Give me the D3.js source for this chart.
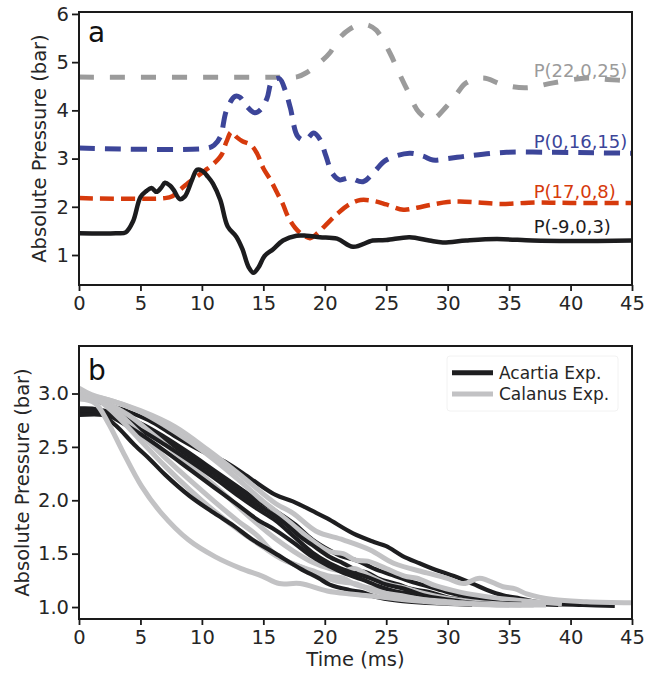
<!DOCTYPE html>
<html>
<head>
<meta charset="utf-8">
<script src="https://cdn.jsdelivr.net/npm/d3@7"></script>
<style>
  body { margin: 0; background: #fff; }
  svg text { font-family: "DejaVu Sans", sans-serif; fill: #262626; }
</style>
</head>
<body>
<div id="chart"></div>
<script>
// ---- data ----
const timeTicks = [0, 5, 10, 15, 20, 25, 30, 35, 40, 45];
const pressureTicksA = [1, 2, 3, 4, 5, 6];
const pressureTicksB = [1.0, 1.5, 2.0, 2.5, 3.0];

// panel a: probes [time ms, pressure bar]
const probe22_0_25 = [[0,4.69],[17.0,4.69],[17.8,4.70],[18.5,4.78],[19.6,4.99],[20.4,5.19],[21.2,5.50],[22.0,5.68],[22.9,5.78],[23.6,5.76],[24.2,5.66],[25.3,5.19],[26.0,4.80],[26.7,4.43],[27.7,3.95],[28.7,3.81],[29.9,4.08],[30.7,4.33],[31.5,4.57],[32.9,4.67],[34.5,4.53],[36.4,4.47],[38.6,4.57],[41.3,4.67],[43,4.64],[45,4.61]];
const probe0_16_15 = [[0,3.22],[10.5,3.22],[11.0,3.28],[11.5,3.45],[12.0,4.0],[12.7,4.29],[13.1,4.27],[13.6,4.10],[14.3,3.95],[14.8,4.02],[15.3,4.25],[15.7,4.6],[16.3,4.66],[16.8,4.40],[17.2,4.05],[17.8,3.46],[18.4,3.38],[19.1,3.53],[19.6,3.40],[20.1,3.05],[20.6,2.70],[21.2,2.56],[22.0,2.60],[23.1,2.52],[24.0,2.72],[25.0,2.97],[26.9,3.11],[28.0,3.05],[28.8,2.97],[30.0,3.00],[31.8,3.06],[34.8,3.13],[38.6,3.13],[42,3.12],[45,3.11]];
const probe17_0_8 = [[0,2.18],[7.0,2.18],[7.6,2.22],[8.2,2.35],[9.0,2.52],[9.6,2.63],[10.3,2.76],[10.9,2.88],[11.6,3.08],[12.0,3.35],[12.4,3.55],[12.8,3.45],[13.3,3.36],[14.0,3.28],[14.5,3.10],[15.0,2.80],[15.6,2.55],[16.1,2.30],[16.6,2.05],[17.0,1.80],[17.6,1.56],[18.2,1.42],[18.8,1.35],[19.4,1.45],[20.0,1.60],[21.0,1.85],[22.0,2.05],[22.9,2.14],[24.0,2.12],[25.0,2.05],[26.4,1.94],[27.5,1.98],[28.6,2.04],[30.0,2.10],[31.0,2.11],[32.5,2.09],[34.3,2.06],[37.2,2.09],[40,2.08],[45,2.08]];
const probeM9_0_3 = [[0,1.45],[3.0,1.45],[3.8,1.47],[4.4,1.7],[5.0,2.2],[5.5,2.33],[5.9,2.39],[6.3,2.31],[6.7,2.40],[7.0,2.50],[7.4,2.44],[7.7,2.35],[8.2,2.16],[8.6,2.21],[9.2,2.56],[9.6,2.77],[10.0,2.75],[10.5,2.62],[10.9,2.48],[11.5,2.14],[12.1,1.59],[12.8,1.38],[13.3,1.12],[13.8,0.75],[14.2,0.63],[14.6,0.74],[15.1,0.98],[15.8,1.12],[16.6,1.30],[17.7,1.40],[18.5,1.40],[19.6,1.37],[21.0,1.34],[22.3,1.17],[23.9,1.30],[25.0,1.31],[26.9,1.37],[28.5,1.30],[29.6,1.26],[31.5,1.30],[34.0,1.33],[36.9,1.30],[40,1.29],[45,1.30]];
const probeNames = ["P(22,0,25)", "P(0,16,15)", "P(17,0,8)", "P(-9,0,3)"];
const probeLabelTime = 37;

// panel b: decay runs [time ms, pressure bar]
const acartiaRuns = [
  [[0,2.97],[1,2.95],[2.4,2.89],[4,2.83],[6,2.73],[7.8,2.60],[10,2.46],[11.9,2.36],[14,2.20],[16,2.05],[17.4,1.99],[19,1.90],[20.2,1.83],[22.3,1.69],[24,1.61],[25,1.57],[26.3,1.48],[27.7,1.41],[29,1.35],[30.5,1.29],[32,1.22],[33.2,1.16],[34.5,1.11],[35.9,1.08],[37.2,1.05],[38.6,1.03],[41,1.02],[43.6,1.01]],
  [[0,2.85],[1.5,2.85],[3,2.81],[5,2.72],[7,2.59],[9,2.44],[11,2.28],[13,2.12],[14.5,2.00],[16,1.90],[17.5,1.78],[19,1.63],[20.4,1.53],[21.5,1.47],[22.5,1.44],[24,1.36],[25.5,1.30],[27,1.24],[28.5,1.19],[30,1.14],[31.5,1.10],[33,1.07],[35,1.05],[37,1.03],[39,1.02]],
  [[0,2.82],[1.8,2.82],[3,2.79],[5,2.69],[7,2.56],[9,2.41],[11,2.25],[13,2.08],[14.5,1.96],[16,1.85],[17,1.76],[18,1.66],[19,1.58],[20.4,1.47],[21.5,1.41],[22.5,1.35],[23.5,1.32],[24.5,1.26],[26,1.21],[27,1.17],[28.5,1.14],[30,1.09],[32,1.06],[34,1.04],[36,1.03]],
  [[0,2.80],[2,2.80],[3,2.77],[5,2.66],[7,2.52],[9,2.37],[11,2.21],[13,2.04],[14.5,1.92],[16,1.81],[17.5,1.66],[19,1.51],[20.4,1.41],[22,1.33],[23.5,1.28],[25,1.21],[26.5,1.17],[28,1.11],[30,1.07],[32,1.04],[35,1.02]],
  [[0,2.86],[1.5,2.85],[3,2.76],[5,2.62],[7,2.46],[9,2.29],[11,2.12],[13,1.95],[14.5,1.82],[16,1.72],[17.5,1.60],[19,1.47],[20.4,1.38],[21.5,1.32],[23,1.26],[24.5,1.19],[26,1.14],[27.5,1.12],[29,1.07],[31,1.04],[33,1.02]],
  [[0,2.84],[1.5,2.83],[3,2.70],[4.5,2.52],[5.8,2.38],[7,2.24],[9,2.04],[11,1.88],[12.6,1.76],[14,1.64],[16,1.50],[18,1.36],[19.5,1.27],[20.4,1.21],[22,1.16],[23,1.14],[24,1.10],[26,1.06],[28,1.04],[30,1.03],[32,1.02]]
];
const calanusRuns = [
  [[0,3.00],[2.4,2.94],[5,2.84],[7.8,2.69],[10.5,2.47],[13.2,2.23],[16,1.97],[17.4,1.88],[19.3,1.71],[21.5,1.63],[23.7,1.535],[25.6,1.41],[28.3,1.32],[29.9,1.27],[31.3,1.22],[32.6,1.27],[34.5,1.19],[35.5,1.17],[36.5,1.12],[38.6,1.07],[41.3,1.05],[45,1.04]],
  [[0,3.05],[1,2.99],[3,2.92],[5,2.83],[7,2.70],[9,2.55],[11,2.38],[13,2.19],[15,1.99],[16,1.90],[17.5,1.76],[19,1.62],[20.4,1.52],[21.5,1.50],[22.5,1.44],[23.5,1.43],[25,1.36],[26.5,1.29],[27.5,1.27],[29,1.20],[31,1.14],[33,1.10],[35,1.07],[37,1.05],[39.3,1.03]],
  [[0,2.95],[2,2.92],[4,2.80],[6,2.62],[8,2.43],[10,2.24],[12,2.04],[14,1.83],[16,1.64],[17.5,1.52],[19,1.42],[20.4,1.36],[21.5,1.34],[22.5,1.36],[23.5,1.30],[25,1.22],[26.5,1.18],[28,1.13],[30,1.08],[32,1.05],[34,1.03],[36,1.02]],
  [[0,2.98],[1.5,2.95],[3,2.84],[5,2.62],[7,2.40],[9,2.19],[11,1.99],[13,1.80],[14.5,1.67],[16,1.49],[17.5,1.40],[19,1.34],[20.4,1.29],[21.5,1.27],[22.5,1.21],[24,1.17],[25.5,1.15],[27,1.10],[29,1.06],[31,1.04],[34,1.02],[37,1.02]],
  [[0,2.97],[1.5,2.94],[3,2.80],[5,2.56],[7,2.32],[9,2.10],[11,1.90],[13,1.72],[15,1.56],[16.5,1.45],[18,1.38],[19.5,1.30],[21,1.24],[22.5,1.22],[24,1.15],[26,1.11],[28,1.07],[30,1.05],[32,1.03],[35,1.02]],
  [[0,2.95],[1.3,2.91],[2.4,2.72],[3.5,2.47],[5.1,2.13],[6.7,1.88],[8.9,1.63],[11.1,1.47],[13.2,1.36],[14.9,1.29],[16.3,1.22],[18,1.22],[20.2,1.15],[22.3,1.12],[24,1.10],[25.6,1.08],[28.3,1.05],[31,1.03],[34,1.02],[38,1.02]]
];
const legendNames = ["Acartia Exp.", "Calanus Exp."];

// ---- chart ----
const width = 646, height = 673;
const left = 79, right = 632;
const panelA = { top: 12, bottom: 285 };
const panelB = { top: 346, bottom: 619 };

const svg = d3.select("#chart").append("svg")
  .attr("width", width)
  .attr("height", height);

const x = d3.scaleLinear().domain([0, 45]).range([left, right]);
const yA = d3.scaleLinear().domain([0.378, 6.04]).range([panelA.bottom, panelA.top]);
const yB = d3.scaleLinear().domain([0.888, 3.445]).range([panelB.bottom, panelB.top]);

function drawAxes(y, panel, ticks, fmt) {
  const gx = svg.append("g")
    .attr("transform", `translate(0,${panel.bottom})`)
    .call(d3.axisBottom(x).tickValues(timeTicks).tickSize(6).tickPadding(5).tickSizeOuter(0));
  const gy = svg.append("g")
    .attr("transform", `translate(${left},0)`)
    .call(d3.axisLeft(y).tickValues(ticks).tickFormat(fmt).tickSize(7).tickPadding(3).tickSizeOuter(0));
  [gx, gy].forEach(g => {
    g.select(".domain").remove();
    g.selectAll("line").attr("stroke", "#1a1a1a").attr("stroke-width", 1.8);
    g.selectAll("text").attr("font-size", "19.5px").attr("font-family", "DejaVu Sans").style("fill", "#262626");
  });
  svg.append("rect")
    .attr("x", left).attr("y", panel.top)
    .attr("width", right - left).attr("height", panel.bottom - panel.top)
    .attr("fill", "none").attr("stroke", "#1a1a1a").attr("stroke-width", 2);
}

const lineA = d3.line().x(d => x(d[0])).y(d => yA(d[1])).curve(d3.curveCatmullRom.alpha(0.5));
const lineB = d3.line().x(d => x(d[0])).y(d => yB(d[1])).curve(d3.curveCatmullRom.alpha(0.5));

// panel a
const probes = [
  { data: probe22_0_25, color: "#9b9b9b", dash: "15,16", w: 5 },
  { data: probe0_16_15, color: "#3c4599", dash: "16,10", w: 5 },
  { data: probe17_0_8, color: "#d63a0c", dash: "14,7", w: 4.5 },
  { data: probeM9_0_3, color: "#1c1c1e", dash: null, w: 4.5 }
];

probes.forEach((p, i) => {
  svg.append("path")
    .datum(p.data)
    .attr("d", lineA)
    .attr("fill", "none")
    .attr("stroke", p.color)
    .attr("stroke-width", p.w)
    .attr("stroke-dasharray", p.dash)
    .attr("stroke-linejoin", "round");
  svg.append("text")
    .attr("x", x(probeLabelTime))
    .attr("y", yA(p.data[0][1]))
    .attr("font-size", "18px")
    .style("fill", p.color)
    .text(probeNames[i]);
});

drawAxes(yA, panelA, pressureTicksA, d3.format("d"));

svg.append("text")
  .attr("transform", `translate(46,${(panelA.top + panelA.bottom) / 2}) rotate(-90)`)
  .attr("text-anchor", "middle")
  .attr("font-size", "19.5px")
  .text("Absolute Pressure (bar)");

svg.append("text")
  .attr("x", 88).attr("y", 41.5)
  .attr("font-size", "28px")
  .style("fill", "#111")
  .text("a");

// panel b
const runColors = { acartia: "#1e1e20", calanus: "#c2c2c4" };
const runs = [];
acartiaRuns.forEach((r, i) => {
  runs.push({ data: r, color: runColors.acartia, w: 4.2 });
  if (calanusRuns[i]) runs.push({ data: calanusRuns[i], color: runColors.calanus, w: 5 });
});

svg.append("g")
  .selectAll("path")
  .data(runs)
  .join("path")
  .attr("d", d => lineB(d.data))
  .attr("fill", "none")
  .attr("stroke", d => d.color)
  .attr("stroke-width", d => d.w)
  .attr("stroke-linejoin", "round");

drawAxes(yB, panelB, pressureTicksB, d3.format(".1f"));

svg.append("text")
  .attr("transform", `translate(29,${(panelB.top + panelB.bottom) / 2}) rotate(-90)`)
  .attr("text-anchor", "middle")
  .attr("font-size", "19.5px")
  .text("Absolute Pressure (bar)");

svg.append("text")
  .attr("x", (left + right) / 2).attr("y", 666)
  .attr("text-anchor", "middle")
  .attr("font-size", "19.5px")
  .text("Time (ms)");

svg.append("text")
  .attr("x", 88).attr("y", 380)
  .attr("font-size", "28px")
  .style("fill", "#111")
  .text("b");

// legend
const legend = svg.append("g");
legend.append("rect")
  .attr("x", 447).attr("y", 356)
  .attr("width", 171).attr("height", 55)
  .attr("rx", 3)
  .attr("fill", "#fff").attr("fill-opacity", 0.8)
  .attr("stroke", "#f2f2f2");
[runColors.acartia, runColors.calanus].forEach((c, i) => {
  const ly = 372.7 + i * 21.3;
  legend.append("line")
    .attr("x1", 452).attr("x2", 493)
    .attr("y1", ly).attr("y2", ly)
    .attr("stroke", c).attr("stroke-width", 5);
  legend.append("text")
    .attr("x", 499).attr("y", ly)
    .attr("dy", "0.36em")
    .attr("font-size", "17px")
    .text(legendNames[i]);
});
</script>
</body>
</html>
